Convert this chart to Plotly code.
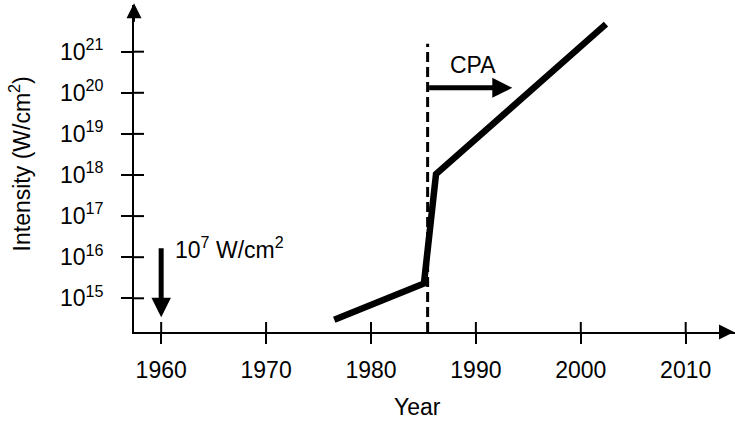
import plotly.graph_objects as go

# Peak laser intensity over time (log scale)
years = [1976.5, 1985.05, 1986.2, 2002.4]
intensity = [3.0e14, 2.3e15, 1.05e18, 4.7e21]

# Chirped pulse amplification marker
cpa_year = 1985.4
cpa_top = 1.55e21

x_ticks = [1960, 1970, 1980, 1990, 2000, 2010]
y_exponents = [15, 16, 17, 18, 19, 20, 21]

x_range = [1957.41, 2014.70]
y_range_log = [14.18, 22.136]

FONT = "Liberation Sans, Arial, sans-serif"
BLACK = "#000000"
FS = 23

fig = go.Figure()

fig.add_trace(go.Scatter(
    x=[cpa_year, cpa_year], y=[10.0 ** y_range_log[0], cpa_top],
    mode="lines", line=dict(color=BLACK, width=3, dash="10px,5px"),
    hoverinfo="skip", showlegend=False,
))
fig.add_trace(go.Scatter(
    x=years, y=intensity, mode="lines",
    line=dict(color=BLACK, width=6.5),
    showlegend=False,
))

# inner halves of the axis ticks (the axis draws the outer halves)
shapes = []
for e in y_exponents:
    shapes.append(dict(type="line", xref="x", xsizemode="pixel", xanchor=x_range[0],
                       x0=0, x1=10, yref="y", y0=10.0 ** e, y1=10.0 ** e,
                       line=dict(color=BLACK, width=2)))
for t in x_ticks:
    shapes.append(dict(type="line", yref="paper", ysizemode="pixel", yanchor=0,
                       y0=0, y1=10, xref="x", x0=t, x1=t,
                       line=dict(color=BLACK, width=2)))

annotations = [
    # axis arrowheads
    dict(xref="x", yref="paper", x=x_range[0], y=1.0052, ax=0, ay=20, text="",
         showarrow=True, arrowhead=2, arrowwidth=2, arrowsize=1.5, arrowcolor=BLACK),
    dict(xref="paper", yref="paper", x=1.03, y=0, ax=-30, ay=0, text="",
         showarrow=True, arrowhead=2, arrowwidth=2, arrowsize=1.5, arrowcolor=BLACK),
    # CPA arrow and label
    dict(xref="x", yref="y", x=1993.47, y=20.12, axref="x", ayref="y",
         ax=cpa_year, ay=20.12, text="", showarrow=True, arrowhead=2,
         arrowwidth=5, arrowsize=0.8, arrowcolor=BLACK),
    dict(xref="x", yref="y", x=1989.7, y=20.68, text="CPA", showarrow=False,
         xanchor="center", yanchor="middle", font=dict(size=FS, color=BLACK, family=FONT)),
    # 10^7 W/cm^2 marker at 1960
    dict(xref="x", yref="y", x=1960, y=14.54, axref="x", ayref="y",
         ax=1960, ay=16.255, text="", showarrow=True, arrowhead=2,
         arrowwidth=5, arrowsize=0.78, arrowcolor=BLACK),
    dict(xref="x", yref="y", x=1961.1, y=16.22, text="10<sup>7</sup> W/cm<sup>2</sup>",
         showarrow=False, xanchor="left", yanchor="middle",
         font=dict(size=FS, color=BLACK, family=FONT)),
    # axis titles
    dict(xref="x", yref="paper", x=1984.39, y=-0.228, text="Year", showarrow=False,
         xanchor="center", yanchor="middle", font=dict(size=FS, color=BLACK, family=FONT)),
    dict(xref="paper", yref="paper", x=-0.19, y=0.515, text="Intensity (W/cm<sup>2</sup>)",
         textangle=-90, showarrow=False, xanchor="center", yanchor="middle",
         font=dict(size=FS, color=BLACK, family=FONT)),
]

fig.update_layout(
    width=735, height=421,
    margin=dict(l=134, r=0, t=5, b=89),
    paper_bgcolor="white", plot_bgcolor="white",
    font=dict(family=FONT, size=FS, color=BLACK),
    shapes=shapes, annotations=annotations,
    xaxis=dict(range=x_range, showgrid=False, zeroline=False,
               showline=True, linecolor=BLACK, linewidth=2,
               ticks="outside", ticklen=10, tickwidth=2, tickcolor=BLACK,
               tickvals=x_ticks, ticktext=[str(t) for t in x_ticks],
               ticklabelstandoff=6,
               tickfont=dict(size=FS, color=BLACK, family=FONT)),
    yaxis=dict(type="log", range=y_range_log, showgrid=False, zeroline=False,
               showline=True, linecolor=BLACK, linewidth=2,
               ticks="outside", ticklen=11, tickwidth=2, tickcolor=BLACK,
               tickvals=[10.0 ** e for e in y_exponents],
               ticktext=[f"10<sup>{e}</sup>" for e in y_exponents],
               ticklabelstandoff=13,
               tickfont=dict(size=FS, color=BLACK, family=FONT)),
)

fig.write_html("out.html")
